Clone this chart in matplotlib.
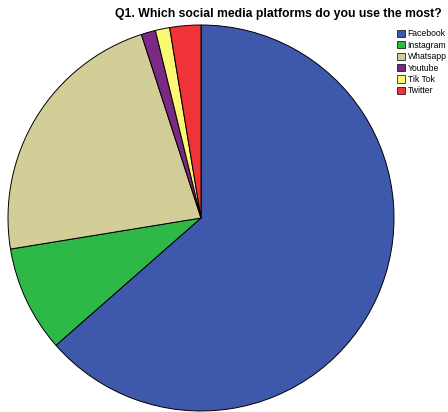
import matplotlib
matplotlib.use("Agg")
import matplotlib.pyplot as plt
from matplotlib.patches import Patch

plt.rcParams['font.family'] = ['Liberation Sans', 'DejaVu Sans']

platforms = ['Facebook', 'Instagram', 'Whatsapp', 'Youtube', 'Tik Tok', 'Twitter']
shares = [63.6, 8.9, 22.6, 1.2, 1.2, 2.6]
colors = ['#3E58AC', '#2EB848', '#D3CE97', '#7B2A83', '#FBF873', '#EF3338']

fig = plt.figure(figsize=(4.48, 4.12), dpi=100)
ax = fig.add_axes([8 / 448, 1 / 412, 386 / 448, 386 / 412])
ax.pie(shares, colors=colors, startangle=90, counterclock=False,
       wedgeprops=dict(edgecolor='black', linewidth=0.7))
ax.set_xlim(-1, 1)
ax.set_ylim(-1, 1)
ax.set_aspect('equal')
ax.axis('off')

fig.text(278 / 448, 1 - 14 / 412, 'Q1. Which social media platforms do you use the most?',
         ha='center', va='center', fontsize=8.8, fontweight='bold')

handles = [Patch(facecolor=c, edgecolor='black', linewidth=0.5) for c in colors]
fig.legend(handles, platforms, loc='upper left', bbox_to_anchor=(393 / 448, 1 - 25 / 412),
           frameon=False, fontsize=6.2, handlelength=0.9, handleheight=0.9,
           handletextpad=0.3, labelspacing=0.28, borderpad=0)

fig.savefig('out.png', dpi=100)
